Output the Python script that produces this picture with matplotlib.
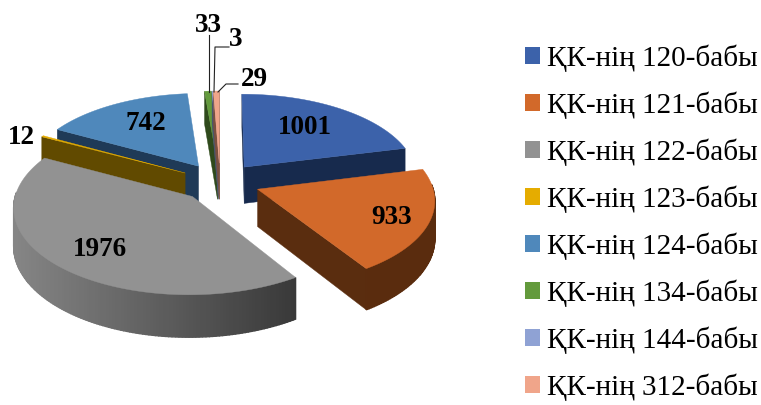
import numpy as np
import matplotlib
matplotlib.use("Agg")
import matplotlib.pyplot as plt
from matplotlib.patches import Polygon, Patch

labels = ["ҚК-нің 120-бабы", "ҚК-нің 121-бабы", "ҚК-нің 122-бабы", "ҚК-нің 123-бабы",
          "ҚК-нің 124-бабы", "ҚК-нің 134-бабы", "ҚК-нің 144-бабы", "ҚК-нің 312-бабы"]
values = [1001, 933, 1976, 12, 742, 33, 3, 29]
colors = ["#3c62aa", "#d2692a", "#929292", "#e5ac00", "#4f88bb", "#639a3c", "#8fa2d4", "#f0a58a"]
# colours of the side walls, left end and right end of the arc
side_left = ["#15264a", "#5c2e10", "#868686", "#614a00", "#1f3a57", "#2f4a1c", "#4a5570", "#7a5040"]
side_right = ["#1a2d55", "#5a2c0e", "#383838", "#614a00", "#1f3a57", "#2f4a1c", "#4a5570", "#7a5040"]
radial_side = ["#172a4d", "#5a2d0f", "#555555", "#614a00", "#1f3a57", "#2f4a1c", "#4a5570", "#7a5040"]

cx, cy = 220, 182
rx, ry = 174, 84
depth = 37
persp = 0.11
explode = 0.23

fig = plt.figure(figsize=(7.61, 4.05), dpi=100)
ax = fig.add_axes([0, 0, 1, 1])
ax.set_xlim(0, 761)
ax.set_ylim(405, 0)
ax.axis("off")


def project(u, v, z=0.0):
    d = 1 + persp * v
    return cx + rx * u / d, cy - ry * v / d + depth * z / d


def hex2rgb(c):
    return np.array(matplotlib.colors.to_rgb(c))


values_arr = np.array(values, dtype=float)
edges = np.concatenate([[0], np.cumsum(values_arr)]) / values_arr.sum() * 2 * np.pi


def draw_wedge(i):
    a1, a2 = edges[i], edges[i + 1]
    mid = (a1 + a2) / 2
    ox, oy = explode * np.sin(mid), explode * np.cos(mid)
    ang = np.linspace(a1, a2, max(int((a2 - a1) * 60), 2))
    us, vs = ox + np.sin(ang), oy + np.cos(ang)

    # radial walls that face the viewer
    for a, sign in ((a1, -1), (a2, 1)):
        if np.cos(a + sign * np.pi / 2) < 0.05:
            u, v = ox + np.sin(a), oy + np.cos(a)
            pts = [project(ox, oy), project(u, v), project(u, v, 1), project(ox, oy, 1)]
            ax.add_patch(Polygon(pts, fc=radial_side[i], ec=radial_side[i], lw=0.3))

    # outer wall, only the part turned to the viewer
    xs = np.array([project(u, v)[0] for u, v in zip(us, vs)])
    xmin, xmax = 12, 300
    for k in range(len(ang) - 1):
        if np.cos((ang[k] + ang[k + 1]) / 2) < 0.05:
            t = np.clip((xs[k] - xmin) / (xmax - xmin), 0, 1)
            col = (1 - t) * hex2rgb(side_left[i]) + t * hex2rgb(side_right[i])
            pts = [project(us[k], vs[k]), project(us[k + 1], vs[k + 1]),
                   project(us[k + 1], vs[k + 1], 1), project(us[k], vs[k], 1)]
            ax.add_patch(Polygon(pts, fc=col, ec=col, lw=1.0))

    # top face
    pts = [project(ox, oy)] + [project(u, v) for u, v in zip(us, vs)]
    ax.add_patch(Polygon(pts, fc=colors[i], ec=colors[i], lw=0.3))


for i in [4, 3, 5, 6, 7, 0, 2, 1]:
    draw_wedge(i)

font = "Liberation Serif"
label_pos = [(305, 128), (392, 218), (100, 249), (21, 137), (146, 123), (208, 25), (236, 39), (254, 79)]
for val, (x, y) in zip(values, label_pos):
    ax.text(x, y, str(val), ha="center", va="center", family=font, weight="bold", fontsize=19.5, color="black")

# leader lines
ax.plot([209, 209], [35, 92], color="#222222", lw=0.8)
ax.plot([229, 215, 214], [47, 47, 92], color="#222222", lw=0.8)
ax.plot([238, 226, 218], [84, 84, 92], color="#222222", lw=0.8)

handles = [Patch(fc=c, ec="none") for c in colors]
ax.legend(handles, labels, loc="upper left", bbox_to_anchor=(525 / 761, 1 - 44 / 405),
          frameon=False, prop={"family": font, "size": 21}, handlelength=0.52, handleheight=0.52,
          handletextpad=0.24, labelspacing=0.67, borderaxespad=0, borderpad=0)

fig.savefig("out.png", dpi=100)
